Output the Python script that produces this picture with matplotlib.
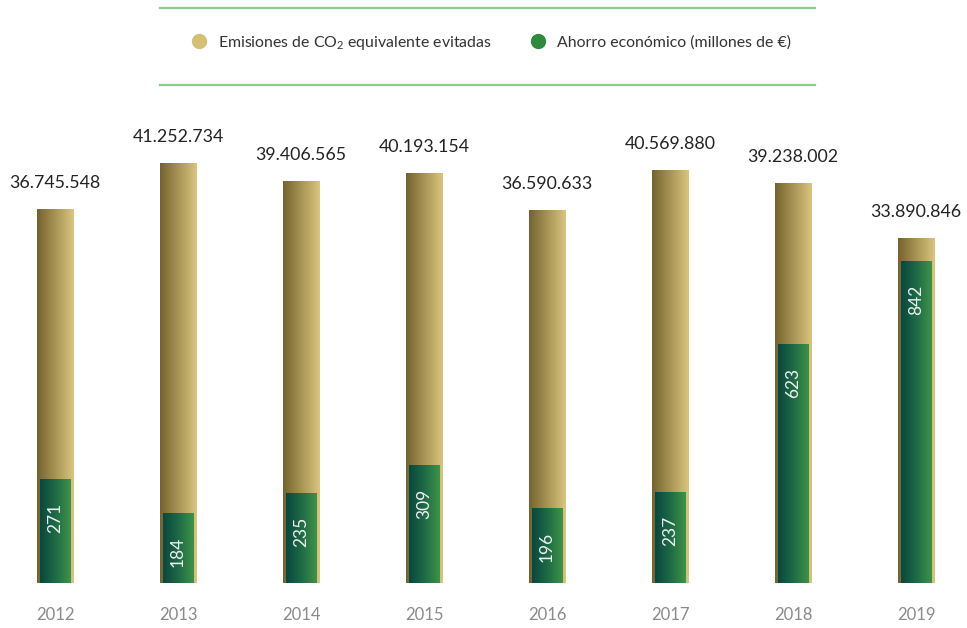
import matplotlib
matplotlib.use("Agg")
import matplotlib.pyplot as plt
import numpy as np
from matplotlib.colors import LinearSegmentedColormap
from matplotlib.lines import Line2D

plt.rcParams['font.family'] = ['Lato', 'DejaVu Sans']
plt.rcParams['mathtext.default'] = 'regular'

years = ['2012', '2013', '2014', '2015', '2016', '2017', '2018', '2019']
emisiones = [36745548, 41252734, 39406565, 40193154, 36590633, 40569880, 39238002, 33890846]
ahorro = [271, 184, 235, 309, 196, 237, 623, 842]

gold_cmap = LinearSegmentedColormap.from_list('gold', ['#74632e', '#a89455', '#dac67e'])
green_cmap = LinearSegmentedColormap.from_list('green', ['#07473f', '#1f6a45', '#3d9448'])


def fmt_es(v):
    return f"{v:,}".replace(',', '.')


def gradient_bars(ax, bars, cmap, z):
    grad = np.linspace(0, 1, 256).reshape(1, -1)
    for b in bars:
        x, w, h = b.get_x(), b.get_width(), b.get_height()
        im = ax.imshow(grad, extent=[x, x + w, 0, h], cmap=cmap,
                       aspect='auto', zorder=z, interpolation='bicubic')
        im.set_clip_path(b)


fig = plt.figure(figsize=(9.67, 6.28), dpi=100)
ax = fig.add_axes([0, 45 / 628, 1, 483 / 628])
ax2 = ax.twinx()

x = np.arange(len(years))
emis_m = np.array(emisiones) / 1e6

gold = ax.bar(x, emis_m, width=0.30, color='#b09c5c', zorder=1)
gradient_bars(ax, gold, gold_cmap, 2)

green = ax2.bar(x, ahorro, width=0.245, color='#2a7a46', zorder=1)
gradient_bars(ax2, green, green_cmap, 2)

xlim = (-0.447, 7.415)
ax.set_xlim(*xlim)
ax2.set_xlim(*xlim)
ax.set_ylim(0, 483 / 10.19)
ax2.set_ylim(0, 483 / 0.383)

for xi, v, vm in zip(x, emisiones, emis_m):
    ax.annotate(fmt_es(v), (xi, vm), xytext=(0, 13), textcoords='offset points',
                ha='center', va='bottom', fontsize=12.8, color='#222222')
    ax.annotate(years[xi], (xi, 0), xytext=(0, -23), textcoords='offset points',
                ha='center', va='center', fontsize=12, color='#8a8a8a')

for xi, v in zip(x, ahorro):
    ax2.annotate(str(v), (xi, v), xytext=(0, -28), textcoords='offset points',
                 ha='center', va='center', fontsize=12.5, rotation=90,
                 color='#eef2f2', zorder=5)

for a in (ax, ax2):
    a.axis('off')

# legend band with green rules
for yy in (1 - 8 / 628, 1 - 85 / 628):
    fig.add_artist(Line2D([160 / 967, 815 / 967], [yy, yy], color='#8cc98f', lw=1.6))

handles = [
    Line2D([], [], marker='o', ls='', markersize=10, color='#d4bf73'),
    Line2D([], [], marker='o', ls='', markersize=10, color='#2e8a3c'),
]
labels = ['Emisiones de CO$_2$ equivalente evitadas', 'Ahorro económico (millones de €)']
fig.legend(handles, labels, loc='center', bbox_to_anchor=(487 / 967, 1 - 43 / 628),
           ncol=2, frameon=False, fontsize=11.4, handletextpad=0.2, columnspacing=1.9,
           labelcolor='#333333')

fig.savefig('out.png', dpi=100)
